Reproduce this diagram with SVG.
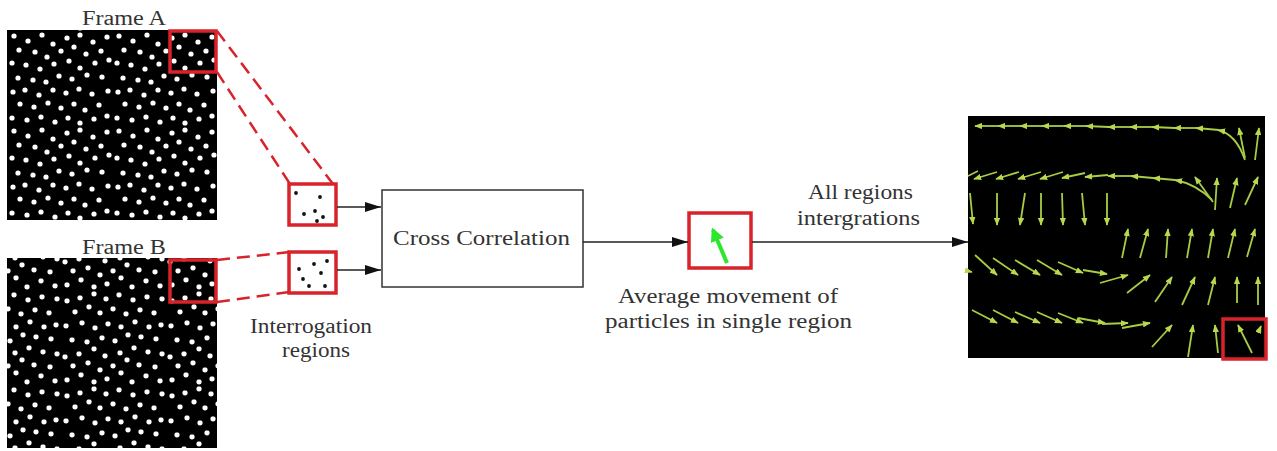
<svg xmlns="http://www.w3.org/2000/svg" xmlns:xlink="http://www.w3.org/1999/xlink" width="1277" height="451" viewBox="0 0 1277 451">
<style>
.t{font-family:"Liberation Serif","Times New Roman",serif;font-size:20px;fill:#333;text-anchor:middle}
.red{fill:none;stroke:#d8232a;stroke-width:3.5}
.redw{fill:#fff;stroke:#d8232a;stroke-width:3.5}
.dash{stroke:#d8232a;stroke-width:2.5;stroke-dasharray:13 7;fill:none}
.conn{stroke:#222;stroke-width:1.5;fill:none;marker-end:url(#ah)}
.v{stroke:#a9cc45;stroke-width:1.8;fill:none;marker-end:url(#vh)}
.vn{stroke:#a9cc45;stroke-width:1.8;fill:none}
.bd{fill:#111}
</style>
<defs>
<marker id="ah" viewBox="0 0 16 10" refX="16" refY="5" markerWidth="16" markerHeight="10" markerUnits="userSpaceOnUse" orient="auto"><path d="M0,0 L16,5 L0,10 Z" fill="#111"/></marker>
<marker id="vh" viewBox="0 0 10 8" refX="9" refY="4" markerWidth="8" markerHeight="6.5" markerUnits="userSpaceOnUse" orient="auto"><path d="M0,0 L10,4 L0,8 Z" fill="#b8d84e"/></marker>
<marker id="gh" viewBox="0 0 10 10" refX="8" refY="5" markerWidth="14" markerHeight="14" markerUnits="userSpaceOnUse" orient="auto"><path d="M0,0 L10,5 L0,10 Z" fill="#2ee62e"/></marker>
<g id="dotset" fill="#fff">
<circle cx="5" cy="4" r="2.6"/><circle cx="19" cy="9" r="2.6"/><circle cx="33" cy="3" r="2.6"/><circle cx="44" cy="12" r="2.6"/><circle cx="58" cy="6" r="2.6"/><circle cx="71" cy="3" r="2.6"/><circle cx="84" cy="10" r="2.6"/><circle cx="98" cy="5" r="2.6"/>
<circle cx="10" cy="18" r="2.6"/><circle cx="26" cy="20" r="2.6"/><circle cx="38" cy="25" r="2.6"/><circle cx="52" cy="19" r="2.6"/><circle cx="65" cy="15" r="2.6"/><circle cx="77" cy="22" r="2.6"/><circle cx="92" cy="19" r="2.6"/>
<circle cx="3" cy="31" r="2.6"/><circle cx="17" cy="33" r="2.6"/><circle cx="31" cy="37" r="2.6"/><circle cx="45" cy="32" r="2.6"/><circle cx="60" cy="29" r="2.6"/><circle cx="71" cy="36" r="2.6"/><circle cx="86" cy="31" r="2.6"/><circle cx="100" cy="28" r="2.6"/>
<circle cx="9" cy="46" r="2.6"/><circle cx="24" cy="48" r="2.6"/><circle cx="37" cy="50" r="2.6"/><circle cx="50" cy="44" r="2.6"/><circle cx="63" cy="47" r="2.6"/><circle cx="78" cy="43" r="2.6"/><circle cx="93" cy="45" r="2.6"/>
<circle cx="4" cy="60" r="2.6"/><circle cx="16" cy="58" r="2.6"/><circle cx="30" cy="63" r="2.6"/><circle cx="44" cy="58" r="2.6"/><circle cx="57" cy="61" r="2.6"/><circle cx="70" cy="57" r="2.6"/><circle cx="83" cy="62" r="2.6"/><circle cx="99" cy="59" r="2.6"/>
<circle cx="11" cy="72" r="2.6"/><circle cx="25" cy="75" r="2.6"/><circle cx="39" cy="71" r="2.6"/><circle cx="52" cy="76" r="2.6"/><circle cx="65" cy="72" r="2.6"/><circle cx="76" cy="78" r="2.6"/><circle cx="90" cy="73" r="2.6"/>
<circle cx="3" cy="86" r="2.6"/><circle cx="18" cy="88" r="2.6"/><circle cx="32" cy="85" r="2.6"/><circle cx="46" cy="90" r="2.6"/><circle cx="59" cy="86" r="2.6"/><circle cx="71" cy="91" r="2.6"/><circle cx="85" cy="87" r="2.6"/><circle cx="98" cy="84" r="2.6"/>
</g>
<pattern id="dotsA" width="105" height="95" patternUnits="userSpaceOnUse" patternTransform="translate(9,32)"><use href="#dotset" xlink:href="#dotset"/></pattern>
<pattern id="dotsB" width="105" height="95" patternUnits="userSpaceOnUse" patternTransform="translate(60,290) scale(-1,-1)"><use href="#dotset" xlink:href="#dotset"/></pattern>
</defs>
<rect width="1277" height="451" fill="#fff"/>

<g id="frameA">
<text class="t" x="124" y="25" textLength="84" lengthAdjust="spacingAndGlyphs">Frame A</text>
<rect x="7" y="30" width="210" height="190" fill="#000"/>
<rect x="7" y="30" width="210" height="190" fill="url(#dotsA)"/>
<rect class="red" x="170" y="31" width="46" height="41"/>
</g>

<g id="frameB">
<text class="t" x="124" y="254" textLength="84" lengthAdjust="spacingAndGlyphs">Frame B</text>
<rect x="7" y="258" width="210" height="190" fill="#000"/>
<rect x="7" y="258" width="210" height="190" fill="url(#dotsB)"/>
<rect class="red" x="170" y="260" width="46" height="42"/>
</g>

<g id="zoomlines">
<line class="dash" x1="217" y1="31" x2="333" y2="184"/>
<line class="dash" x1="217" y1="72" x2="290" y2="184"/>
<line class="dash" x1="217" y1="260" x2="290" y2="252"/>
<line class="dash" x1="217" y1="302" x2="290" y2="292"/>
</g>

<g id="regionA">
<rect class="redw" x="289" y="184" width="47" height="41"/>
<circle class="bd" cx="296" cy="193" r="1.9"/><circle class="bd" cx="320" cy="197" r="1.9"/><circle class="bd" cx="304" cy="214" r="1.9"/><circle class="bd" cx="315" cy="211" r="1.9"/><circle class="bd" cx="323" cy="217" r="1.9"/><circle class="bd" cx="317" cy="221" r="1.9"/>
</g>
<g id="regionB">
<rect class="redw" x="289" y="252" width="47" height="41"/>
<circle class="bd" cx="299" cy="269" r="1.9"/><circle class="bd" cx="314" cy="264" r="1.9"/><circle class="bd" cx="327" cy="261" r="1.9"/><circle class="bd" cx="321" cy="273" r="1.9"/><circle class="bd" cx="303" cy="279" r="1.9"/><circle class="bd" cx="309" cy="286" r="1.9"/><circle class="bd" cx="325" cy="286" r="1.9"/>
</g>
<g id="interLabel">
<text class="t" x="311" y="333" textLength="122" lengthAdjust="spacingAndGlyphs">Interrogation</text>
<text class="t" x="316" y="357" textLength="68" lengthAdjust="spacingAndGlyphs">regions</text>
</g>

<g id="crossCorr">
<rect x="382" y="190" width="201" height="97" fill="#fff" stroke="#333" stroke-width="1.5"/>
<text class="t" x="481.5" y="245" textLength="177" lengthAdjust="spacingAndGlyphs">Cross Correlation</text>
</g>

<g id="avgMove">
<rect class="redw" x="689" y="213" width="62" height="55"/>
<line x1="727" y1="263" x2="713" y2="230" stroke="#2ee62e" stroke-width="4" marker-end="url(#gh)"/>
<text class="t" x="728" y="303" textLength="220" lengthAdjust="spacingAndGlyphs">Average movement of</text>
<text class="t" x="728.5" y="328" textLength="247" lengthAdjust="spacingAndGlyphs">particles in single region</text>
</g>

<g id="integLabel">
<text class="t" x="860.5" y="199" textLength="105" lengthAdjust="spacingAndGlyphs">All regions</text>
<text class="t" x="858.5" y="225" textLength="123" lengthAdjust="spacingAndGlyphs">intergrations</text>
</g>

<g id="connectors">
<line class="conn" x1="337" y1="207" x2="381" y2="207"/>
<line class="conn" x1="337" y1="270" x2="381" y2="270"/>
<line class="conn" x1="583" y1="242" x2="688" y2="242"/>
<line class="conn" x1="752" y1="242" x2="968" y2="242"/>
</g>

<g id="vectorField">
<rect x="968" y="116" width="297" height="242" fill="#000"/>
<line class="v" x1="998" y1="126" x2="975" y2="126"/>
<line class="v" x1="1021" y1="126" x2="998" y2="126"/>
<line class="v" x1="1043" y1="126" x2="1020" y2="126"/>
<line class="v" x1="1065" y1="126" x2="1042" y2="126"/>
<line class="v" x1="1087" y1="126" x2="1064" y2="126"/>
<line class="v" x1="1109" y1="127" x2="1086" y2="126"/>
<line class="v" x1="1131" y1="127" x2="1108" y2="127"/>
<line class="v" x1="1153" y1="127" x2="1130" y2="127"/>
<line class="v" x1="1175" y1="128" x2="1152" y2="127"/>
<line class="v" x1="1197" y1="128" x2="1174" y2="128"/>
<line class="v" x1="1219" y1="130" x2="1196" y2="128"/>
<path class="v" d="M1245,160 Q1236,134 1218,130"/>
<line class="v" x1="1245" y1="158" x2="1239" y2="128"/>
<line class="v" x1="1255" y1="160" x2="1259" y2="128"/>
<line class="v" x1="997" y1="172" x2="974" y2="179"/>
<line class="v" x1="1019" y1="172" x2="996" y2="179"/>
<line class="v" x1="1041" y1="172" x2="1018" y2="179"/>
<line class="v" x1="1063" y1="172" x2="1040" y2="179"/>
<line class="v" x1="1085" y1="173" x2="1062" y2="178"/>
<line class="v" x1="1108" y1="175" x2="1085" y2="177"/>
<line class="v" x1="1131" y1="176" x2="1108" y2="176"/>
<line class="v" x1="1153" y1="178" x2="1131" y2="176"/>
<line class="v" x1="1175" y1="180" x2="1153" y2="178"/>
<path class="v" d="M1212,200 Q1196,184 1175,180"/>
<line class="vn" x1="968" y1="176" x2="978" y2="171"/>
<line class="v" x1="1213" y1="202" x2="1195" y2="177"/>
<line class="v" x1="1215" y1="210" x2="1217" y2="178"/>
<line class="v" x1="1230" y1="208" x2="1237" y2="178"/>
<line class="v" x1="1245" y1="205" x2="1258" y2="177"/>
<line class="v" x1="970" y1="193" x2="973" y2="224"/>
<line class="v" x1="997" y1="193" x2="997" y2="225"/>
<line class="v" x1="1025" y1="193" x2="1020" y2="225"/>
<line class="v" x1="1041" y1="193" x2="1041" y2="225"/>
<line class="v" x1="1062" y1="193" x2="1063" y2="225"/>
<line class="v" x1="1082" y1="193" x2="1085" y2="225"/>
<line class="v" x1="1107" y1="193" x2="1107" y2="225"/>
<line class="v" x1="1122" y1="258" x2="1128" y2="229"/>
<line class="v" x1="1140" y1="258" x2="1148" y2="229"/>
<line class="v" x1="1166" y1="258" x2="1168" y2="229"/>
<line class="v" x1="1187" y1="258" x2="1192" y2="229"/>
<line class="v" x1="1208" y1="258" x2="1213" y2="229"/>
<line class="v" x1="1228" y1="258" x2="1235" y2="229"/>
<line class="v" x1="1247" y1="257" x2="1255" y2="229"/>
<line class="v" x1="975" y1="255" x2="997" y2="275"/>
<line class="v" x1="993" y1="258" x2="1018" y2="275"/>
<line class="v" x1="1015" y1="260" x2="1040" y2="275"/>
<line class="v" x1="1037" y1="260" x2="1062" y2="275"/>
<line class="v" x1="1058" y1="262" x2="1083" y2="273"/>
<line class="v" x1="1083" y1="270" x2="1107" y2="274"/>
<line class="v" x1="1100" y1="283" x2="1128" y2="275"/>
<line class="v" x1="1127" y1="293" x2="1150" y2="275"/>
<line class="v" x1="1155" y1="302" x2="1172" y2="277"/>
<line class="v" x1="1182" y1="305" x2="1195" y2="277"/>
<line class="v" x1="1208" y1="305" x2="1215" y2="277"/>
<line class="v" x1="1237" y1="303" x2="1237" y2="277"/>
<line class="v" x1="1258" y1="305" x2="1258" y2="277"/>
<line class="v" x1="968" y1="271" x2="972" y2="272"/>
<line class="v" x1="972" y1="310" x2="997" y2="323"/>
<line class="v" x1="993" y1="310" x2="1018" y2="323"/>
<line class="v" x1="1015" y1="312" x2="1040" y2="323"/>
<line class="v" x1="1037" y1="312" x2="1062" y2="323"/>
<line class="v" x1="1058" y1="313" x2="1083" y2="323"/>
<line class="v" x1="1078" y1="318" x2="1105" y2="323"/>
<line class="v" x1="1102" y1="324" x2="1128" y2="323"/>
<line class="v" x1="1122" y1="328" x2="1150" y2="323"/>
<line class="v" x1="1152" y1="347" x2="1172" y2="325"/>
<line class="v" x1="1188" y1="357" x2="1193" y2="325"/>
<line class="v" x1="1218" y1="353" x2="1215" y2="325"/>
<line class="v" x1="1252" y1="353" x2="1238" y2="325"/>
<line class="v" x1="1258" y1="333" x2="1261" y2="326"/>
<rect class="red" x="1223" y="319" width="43" height="40"/>
</g>
</svg>
